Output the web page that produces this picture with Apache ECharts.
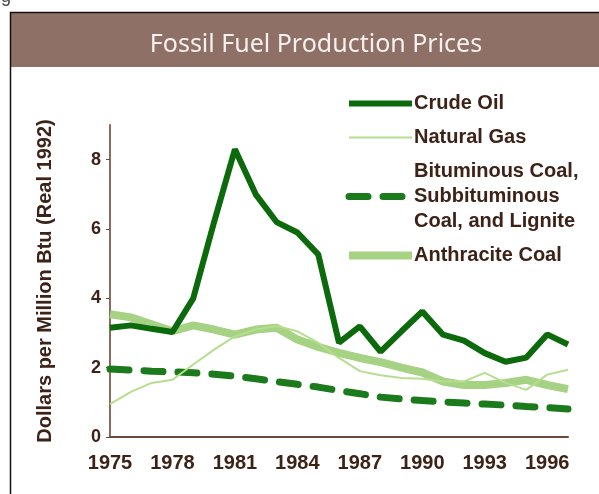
<!DOCTYPE html>
<html>
<head>
<meta charset="utf-8">
<title>Fossil Fuel Production Prices</title>
<script src="https://cdn.jsdelivr.net/npm/echarts@6/dist/echarts.min.js"></script>
<style>
  html, body { margin: 0; padding: 0; background: #fff; }
  #main { width: 599px; height: 494px; }
</style>
</head>
<body>
<div id="main"></div>
<script>
// years on the x axis
var years = ['1975','1976','1977','1978','1979','1980','1981','1982','1983','1984','1985','1986',
             '1987','1988','1989','1990','1991','1992','1993','1994','1995','1996','1997'];
var yTicks = [0, 2, 4, 6, 8];

// dollars per million Btu (real 1992)
var crudeOil   = [3.15, 3.22, 3.12, 3.03, 4.0, 6.2, 8.3, 7.0, 6.2, 5.9, 5.27, 2.72,
                  3.19, 2.46, 3.05, 3.62, 2.95, 2.78, 2.42, 2.17, 2.29, 2.96, 2.67];
var naturalGas = [0.95, 1.3, 1.56, 1.65, 2.09, 2.52, 2.9, 3.1, 3.2, 3.05, 2.72, 2.28,
                  1.9, 1.78, 1.7, 1.68, 1.6, 1.6, 1.85, 1.56, 1.36, 1.8, 1.94];
var bituminous = [1.96, 1.93, 1.9, 1.88, 1.85, 1.81, 1.76, 1.68, 1.6, 1.52, 1.44, 1.34,
                  1.25, 1.15, 1.1, 1.05, 1.01, 0.98, 0.95, 0.92, 0.88, 0.85, 0.81];
var anthracite = [3.54, 3.45, 3.25, 3.05, 3.22, 3.1, 2.95, 3.1, 3.15, 2.81, 2.6, 2.43,
                  2.28, 2.16, 2.0, 1.86, 1.6, 1.5, 1.5, 1.56, 1.65, 1.5, 1.38];

var nameCrude = 'Crude Oil';
var nameGas = 'Natural Gas';
var nameBit = 'Bituminous Coal,\nSubbituminous\nCoal, and Lignite';
var nameAnth = 'Anthracite Coal';

var textDark = '#3d2217';
var chart = echarts.init(document.getElementById('main'));

var option = {
  animation: false,
  backgroundColor: '#fff',
  title: {
    text: 'Fossil Fuel Production Prices',
    left: 311, top: 40, textAlign: 'center', textVerticalAlign: 'middle',
    textStyle: { color: '#f6f1ee', fontFamily: 'Noto Sans', fontWeight: 'normal', fontSize: 25 }
  },
  graphic: [
    { type: 'rect', z: -10, shape: { x: 10, y: 13, width: 600, height: 54 }, style: { fill: '#8f7066' } },
    { type: 'rect', z: -9, shape: { x: 10.5, y: 12.5, width: 600, height: 500 },
      style: { fill: 'none', stroke: '#111', lineWidth: 1.5 } },
    { type: 'text', left: 1, top: -12, style: { text: 'g', fill: '#444', font: '18px Liberation Sans' } }
  ],
  legend: {
    orient: 'vertical',
    left: 345, top: 91, padding: 0,
    itemWidth: 63, itemHeight: 10, itemGap: 9,
    selectedMode: false,
    data: [nameCrude, nameGas, nameBit, nameAnth],
    itemStyle: { opacity: 0 },
    lineStyle: { width: 'inherit' },
    textStyle: { color: textDark, fontFamily: 'Liberation Sans', fontWeight: 'bold', fontSize: 20, lineHeight: 25, padding: [0, 0, 0, -3] }
  },
  grid: { left: 110, right: 31, top: 125, bottom: 57 },
  xAxis: {
    type: 'category',
    data: years,
    boundaryGap: false,
    axisLine: { lineStyle: { color: '#6b4a3a', width: 2 } },
    axisTick: { show: false },
    axisLabel: { interval: 2, margin: 16, color: textDark, fontFamily: 'Liberation Sans', fontWeight: 'bold', fontSize: 20 },
    splitLine: { show: false }
  },
  yAxis: {
    type: 'value',
    min: 0, max: 9, interval: 2,
    name: 'Dollars per Million Btu (Real 1992)',
    nameLocation: 'middle', nameGap: 55,
    nameTextStyle: { color: textDark, fontFamily: 'Liberation Sans', fontWeight: 'bold', fontSize: 20 },
    axisLine: { show: true, lineStyle: { color: '#8a6a5a', width: 2 } },
    axisTick: { show: true, length: 4, customValues: yTicks, lineStyle: { color: '#6b4a3a' } },
    axisLabel: { customValues: yTicks, margin: 9, color: textDark, fontFamily: 'Liberation Sans', fontWeight: 'bold', fontSize: 18 },
    splitLine: { show: false }
  },
  series: [
    { name: nameBit, type: 'line', data: bituminous, symbol: 'none',
      lineStyle: { color: '#1b7a1b', width: 7, type: [19, 15], cap: 'round' }, itemStyle: { color: '#1b7a1b' } },
    { name: nameAnth, type: 'line', data: anthracite, symbol: 'none',
      lineStyle: { color: '#a6d283', width: 8 }, itemStyle: { color: '#a6d283' } },
    { name: nameGas, type: 'line', data: naturalGas, symbol: 'none',
      lineStyle: { color: '#b6de8e', width: 2 }, itemStyle: { color: '#b6de8e' } },
    { name: nameCrude, type: 'line', data: crudeOil, symbol: 'none',
      lineStyle: { color: '#0c6a0c', width: 6 }, itemStyle: { color: '#0c6a0c' } }
  ]
};
chart.setOption(option);
</script>
</body>
</html>
